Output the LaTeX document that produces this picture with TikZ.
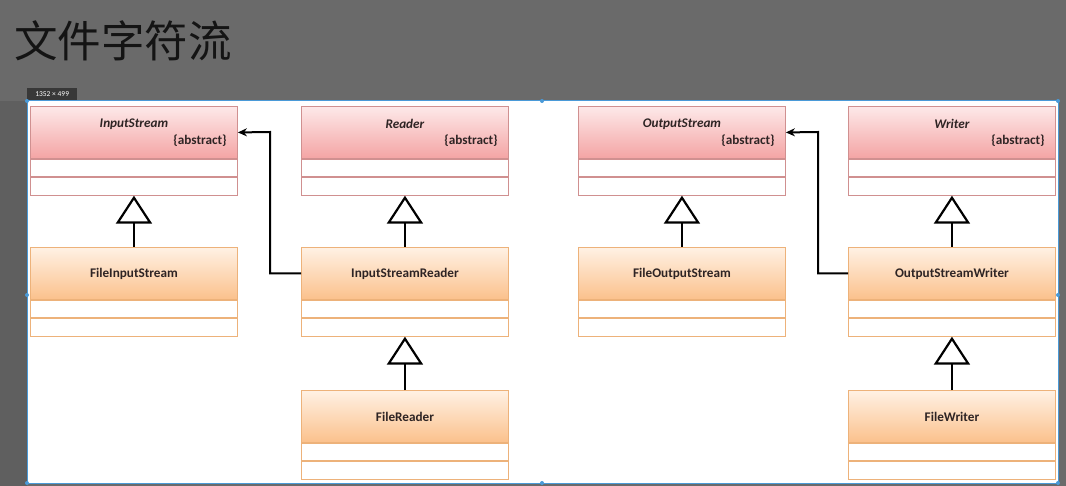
\documentclass[tikz,border=0pt]{standalone}
\usepackage{fontspec}
\setmainfont{Carlito}
\newfontfamily\cjk{Noto Sans CJK SC}
\usetikzlibrary{arrows.meta,calc}
\definecolor{bggray}{HTML}{6A6A6A}
\definecolor{bgdark}{HTML}{5F5F5F}
\definecolor{pinktop}{HTML}{FDE9E9}
\definecolor{pinkbot}{HTML}{F4A4A4}
\definecolor{pinkline}{HTML}{D09090}
\definecolor{orgtop}{HTML}{FFF1E4}
\definecolor{orgbot}{HTML}{FBC18C}
\definecolor{orgline}{HTML}{EDB27A}
\definecolor{selblue}{HTML}{4A9AD8}
\definecolor{txt}{HTML}{2E2424}
\tikzset{
  hdrbase/.style={draw, line width=0.9pt, minimum width=207pt, minimum height=52pt, inner sep=0pt, anchor=north west},
  pinkhdr/.style={hdrbase, draw=pinkline, top color=pinktop, bottom color=pinkbot},
  orghdr/.style={hdrbase, draw=orgline, top color=orgtop, bottom color=orgbot},
  rowbase/.style={draw, fill=white, line width=0.9pt, minimum width=207pt, minimum height=17.5pt, inner sep=0pt, anchor=north},
  pinkrow/.style={rowbase, draw=pinkline},
  orgrow/.style={rowbase, draw=orgline},
  clsname/.style={font=\bfseries\fontsize{13.2}{15}\selectfont, text=txt, inner sep=0pt},
  absname/.style={font=\bfseries\itshape\fontsize{13.2}{15}\selectfont, text=txt, inner sep=0pt},
  absnote/.style={font=\bfseries\fontsize{13.2}{15}\selectfont, text=txt, inner sep=0pt, anchor=east},
  inherit/.style={line width=2.2pt, -{Triangle[open, length=28pt, width=36pt, line width=2.2pt]}},
  assoc/.style={line width=2pt, -{Stealth[length=9pt, width=8pt]}},
}
\newcommand\absclass[4]{%
  \node[pinkhdr] (#1) at (#2,#3) {};
  \node[absname] (#1-t) at ($(#1.north)+(0,18)$) {#4};
  \node[absnote] (#1-a) at ($(#1.north east)+(-11,35)$) {\{abstract\}};
  \node[pinkrow] (#1-r1) at (#1.south) {};
  \node[pinkrow] (#1-r2) at (#1-r1.south) {};
}
\newcommand\conclass[4]{%
  \node[orghdr] (#1) at (#2,#3) {};
  \node[clsname] (#1-t) at (#1.center) {#4};
  \node[orgrow] (#1-r1) at (#1.south) {};
  \node[orgrow] (#1-r2) at (#1-r1.south) {};
}
\begin{document}
\begin{tikzpicture}[x=1pt,y=-1pt]
\useasboundingbox (0,0) rectangle (1066,486);
\fill[bggray] (0,0) rectangle (1066,486);
\fill[bgdark] (0,101) rectangle (27,486);
\node[font=\cjk\fontsize{43.5}{48}\selectfont, text=black!92, anchor=west, inner sep=0pt] (title) at (14,41) {文件字符流};
\node[fill=black!78, text=white!85, font=\fontsize{7.5}{8}\selectfont, anchor=north west, minimum width=50pt, minimum height=12pt, inner sep=1pt] (dim) at (27,88) {1352 × 499};
\fill[white] (27,101) rectangle (1058,483);
\draw[selblue, line width=1pt] (27,101) rectangle (1058,483);
\foreach \px/\py in {27/101,542/101,1058/101,1058/295,27/295,27/483,542/483,1058/483}
  \fill[selblue] (\px,\py) circle (2pt);
% classes
\absclass{is}{30}{106}{InputStream}
\absclass{rd}{301}{106}{Reader}
\absclass{os}{578}{106}{OutputStream}
\absclass{wr}{848}{106}{Writer}
\conclass{fis}{30}{247}{FileInputStream}
\conclass{isr}{301}{247}{InputStreamReader}
\conclass{fos}{578}{247}{FileOutputStream}
\conclass{osw}{848}{247}{OutputStreamWriter}
\conclass{fr}{301}{390}{FileReader}
\conclass{fw}{848}{390}{FileWriter}
% inheritance
\draw[inherit] (fis.north) -- (is-r2.south);
\draw[inherit] (isr.north) -- (rd-r2.south);
\draw[inherit] (fos.north) -- (os-r2.south);
\draw[inherit] (osw.north) -- (wr-r2.south);
\draw[inherit] (fr.north) -- (isr-r2.south);
\draw[inherit] (fw.north) -- (osw-r2.south);
% associations
\coordinate (k1) at (270,132);
\coordinate (k2) at (818,132);
\draw[assoc] (isr.west) -| (k1) -- (is.east);
\draw[assoc] (osw.west) -| (k2) -- (os.east);
\end{tikzpicture}
\end{document}
